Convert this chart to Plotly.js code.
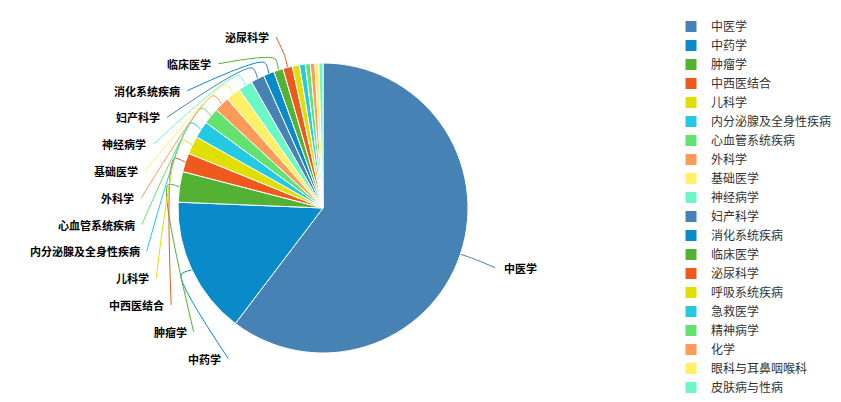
<!DOCTYPE html>
<html>
<head>
<meta charset="utf-8">
<script src="https://cdn.plot.ly/plotly-3.0.1.min.js"></script>
<style>
  html, body { margin: 0; padding: 0; background: #fff; }
  #chart { width: 841px; height: 402px; }
</style>
</head>
<body>
<div id="chart"></div>
<script>
// Discipline categories and their counts
const categories = [
  '中医学', '中药学', '肿瘤学', '中西医结合', '儿科学',
  '内分泌腺及全身性疾病', '心血管系统疾病', '外科学', '基础医学', '神经病学',
  '妇产科学', '消化系统疾病', '临床医学', '泌尿科学', '呼吸系统疾病',
  '急救医学', '精神病学', '化学', '眼科与耳鼻咽喉科', '皮肤病与性病'
];
const counts = [
  1206, 306, 68, 42, 40,
  38, 36, 34, 33, 32,
  30, 24, 21, 21, 16,
  13, 11, 10, 9, 9
];
// Slices whose outside label is drawn
const showLabel = [
  true, true, true, true, true,
  true, true, true, true, true,
  true, true, true, true, false,
  false, false, false, false, false
];

// Ten-colour palette, repeated over the categories
const palette = [
  '#4682b4', '#088bc8', '#53b234', '#ee5a1e', '#dfe000',
  '#24c9e4', '#63e26f', '#ff9a59', '#fff066', '#6cf8c6'
];
const colors = categories.map((_, i) => palette[i % palette.length]);

// ---- geometry of the plot (pixels) ----
const W = 841, H = 402;
const cx = 323, cy = 208, r = 145;     // pie centre and radius
const lineOut = 12;                     // first, radial part of a leader line
const labelA = 187, labelB = 178;       // ellipse on which labels sit
const labelTop = 37, labelGap = 26.8;   // stacking of the left-hand labels
const labelFont = { family: 'Noto Sans CJK SC, sans-serif', size: 11, color: '#000', weight: 'bold' };

// Mid angle of each slice, clockwise from 12 o'clock (radians)
const total = counts.reduce((a, b) => a + b, 0);
let acc = 0;
const midAngle = counts.map(v => {
  const m = (acc + v / 2) / total * 2 * Math.PI;
  acc += v;
  return m;
});
const polar = (a, rho) => [cx + rho * Math.sin(a), cy - rho * Math.cos(a)];
const ellipseX = (y, side) => {
  const t = Math.max(0, 1 - Math.pow((y - cy) / labelB, 2));
  return cx + side * labelA * Math.sqrt(t);
};

// Labels on the left are stacked from the top, nearest the top first
const leftIdx = [];
categories.forEach((_, i) => {
  if (showLabel[i] && midAngle[i] > Math.PI) leftIdx.push(i);
});
leftIdx.sort((a, b) => midAngle[b] - midAngle[a]);

const leaderTraces = [];
const annotations = [];
categories.forEach((name, i) => {
  if (!showLabel[i]) return;
  const a = midAngle[i];
  const left = a > Math.PI;
  let ly, textX, endX;
  if (left) {
    ly = labelTop + labelGap * leftIdx.indexOf(i);
    textX = ellipseX(ly, -1);
    endX = textX + 5;
  } else {
    ly = cy - labelA * Math.cos(a);
    endX = ellipseX(ly, 1) - 4;
    textX = endX + 7;
  }
  const p0 = polar(a, r);
  const p1 = polar(a, r + lineOut);
  leaderTraces.push({
    type: 'scatter',
    mode: 'lines',
    x: [p0[0], p1[0], endX],
    y: [p0[1], p1[1], ly],
    line: { color: colors[i], width: 1, shape: 'spline', smoothing: 0.8 },
    hoverinfo: 'skip',
    showlegend: false,
    cliponaxis: false
  });
  annotations.push({
    xref: 'x', yref: 'y',
    x: textX, y: ly,
    text: name,
    showarrow: false,
    xanchor: left ? 'right' : 'left',
    yanchor: 'middle',
    font: labelFont
  });
});

const pie = {
  type: 'pie',
  labels: categories,
  values: counts,
  textinfo: 'none',
  sort: false,
  direction: 'clockwise',
  rotation: 0,
  marker: { colors: colors, line: { color: '#fff', width: 1 } },
  hoverinfo: 'none',
  domain: {
    x: [(cx - 200) / W, (cx + 200) / W],
    y: [(H - (cy + r)) / H, (H - (cy - r)) / H]
  }
};

const layout = {
  width: W,
  height: H,
  margin: { l: 0, r: 0, t: 0, b: 0 },
  paper_bgcolor: '#fff',
  plot_bgcolor: 'rgba(0,0,0,0)',
  xaxis: { range: [0, W], visible: false, fixedrange: true },
  yaxis: { range: [H, 0], visible: false, fixedrange: true },
  showlegend: true,
  legend: {
    x: 671 / W,
    y: 1 - 14 / H,
    xanchor: 'left',
    yanchor: 'top',
    font: { family: 'Noto Sans CJK SC, sans-serif', size: 12, color: '#333' },
    bgcolor: 'rgba(0,0,0,0)'
  },
  annotations: annotations
};

Plotly.newPlot('chart', [...leaderTraces, pie], layout, { displayModeBar: false, staticPlot: true });
</script>
</body>
</html>
